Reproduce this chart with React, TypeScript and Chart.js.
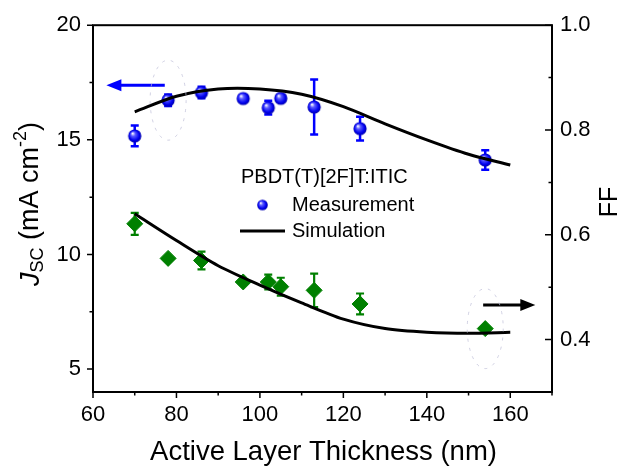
import React, { useEffect, useRef } from "react";
import { Chart, registerables } from "chart.js";
Chart.register(...registerables);

const FONT = "'Liberation Sans', Arial, Helvetica, sans-serif";

// Measured data
const thickness = [70, 78, 86, 96, 102, 105, 113, 124, 154];
const jscValues = [15.17, 16.73, 17.06, 16.8, 16.4, 16.81, 16.43, 15.49, 14.12];
const jscErrors = [0.45, 0.25, 0.25, 0, 0.3, 0.12, 1.2, 0.52, 0.42];
const ffValues = [0.621, 0.555, 0.551, 0.51, 0.51, 0.501, 0.494, 0.468, 0.421];
const ffErrors = [0.021, 0, 0.017, 0, 0.014, 0.017, 0.032, 0.02, 0];

// Simulation
const simThickness = [70, 80, 90, 100, 110, 120, 130, 140, 150, 160];
const jscSim = [16.22, 16.9, 17.22, 17.22, 16.99, 16.45, 15.7, 15.0, 14.37, 13.9];
const ffSim = [0.64, 0.589, 0.541, 0.504, 0.47, 0.439, 0.421, 0.414, 0.412, 0.414];

// Ticks
const xTicks = [60, 80, 100, 120, 140, 160];
const xMinor = [70, 90, 110, 130, 150, 170];
const jscTicks = [5, 10, 15, 20];
const jscMinor = [7.5, 12.5, 17.5];
const ffTicks = [0.4, 0.6, 0.8, 1.0];
const ffMinor = [0.5, 0.7, 0.9];

// Annotations (data coordinates)
const jscArrow = { y: 17.38, from: 77.2, to: 63.2 };
const ffArrow = { y: 0.466, from: 153.5, to: 166 };
const legendTitle = "PBDT(T)[2F]T:ITIC";
const legendLabels = ["Measurement", "Simulation"];

function makeSphere(r: number) {
  const c = document.createElement("canvas");
  const s = Math.ceil(r * 2 + 2);
  c.width = s;
  c.height = s;
  const g = c.getContext("2d")!;
  const cx = s / 2;
  const grad = g.createRadialGradient(cx - r * 0.35, cx - r * 0.4, r * 0.05, cx, cx, r);
  grad.addColorStop(0, "#ffffff");
  grad.addColorStop(0.3, "#5c5cff");
  grad.addColorStop(0.75, "#0000f0");
  grad.addColorStop(1, "#0000a8");
  g.fillStyle = grad;
  g.beginPath();
  g.arc(cx, cx, r, 0, Math.PI * 2);
  g.fill();
  return c;
}

export default function App() {
  const ref = useRef<HTMLCanvasElement>(null);
  useEffect(() => {
    document.body.style.margin = "0";
    const canvas = ref.current!;
    const sphere = makeSphere(6.6);
    const legendSphere = makeSphere(5.3);

    const errorBars = {
      id: "errorBars",
      beforeDatasetsDraw(chart: any) {
        const ctx = chart.ctx;
        const x = chart.scales.x;
        const drawSet = (vals: number[], errs: number[], scale: any, color: string, lw: number) => {
          ctx.save();
          ctx.strokeStyle = color;
          ctx.lineWidth = lw;
          thickness.forEach((t, i) => {
            if (!errs[i]) return;
            const px = x.getPixelForValue(t);
            const y1 = scale.getPixelForValue(vals[i] + errs[i]);
            const y2 = scale.getPixelForValue(vals[i] - errs[i]);
            ctx.beginPath();
            ctx.moveTo(px, y1);
            ctx.lineTo(px, y2);
            ctx.moveTo(px - 4, y1);
            ctx.lineTo(px + 4, y1);
            ctx.moveTo(px - 4, y2);
            ctx.lineTo(px + 4, y2);
            ctx.stroke();
          });
          ctx.restore();
        };
        drawSet(jscValues, jscErrors, chart.scales.y, "#0000ff", 2.5);
        drawSet(ffValues, ffErrors, chart.scales.y2, "#008000", 2.2);
      },
    };

    const decor = {
      id: "decor",
      afterDraw(chart: any) {
        const ctx = chart.ctx;
        const { left, right, top, bottom } = chart.chartArea;
        const xs = chart.scales.x;
        const ys = chart.scales.y;
        const y2 = chart.scales.y2;
        ctx.save();
        ctx.strokeStyle = "#000";
        ctx.lineWidth = 2;
        ctx.strokeRect(left, top, right - left, bottom - top);
        ctx.lineWidth = 1.5;
        ctx.beginPath();
        xTicks.forEach((v) => {
          const p = xs.getPixelForValue(v);
          ctx.moveTo(p, bottom);
          ctx.lineTo(p, bottom + 6);
        });
        xMinor.forEach((v) => {
          const p = xs.getPixelForValue(v);
          ctx.moveTo(p, bottom);
          ctx.lineTo(p, bottom + 3.5);
        });
        jscTicks.forEach((v) => {
          const p = ys.getPixelForValue(v);
          ctx.moveTo(left, p);
          ctx.lineTo(left - 6, p);
        });
        jscMinor.forEach((v) => {
          const p = ys.getPixelForValue(v);
          ctx.moveTo(left, p);
          ctx.lineTo(left - 3.5, p);
        });
        ffTicks.forEach((v) => {
          const p = y2.getPixelForValue(v);
          ctx.moveTo(right, p);
          ctx.lineTo(right - 7, p);
        });
        ffMinor.forEach((v) => {
          const p = y2.getPixelForValue(v);
          ctx.moveTo(right, p);
          ctx.lineTo(right - 3.5, p);
        });
        ctx.stroke();

        // Axis titles
        ctx.fillStyle = "#000";
        ctx.textBaseline = "middle";
        ctx.textAlign = "center";
        ctx.font = `27.5px ${FONT}`;
        ctx.fillText("Active Layer Thickness (nm)", (left + right) / 2 + 1, 452);

        ctx.font = `25px ${FONT}`;
        ctx.save();
        ctx.translate(610, 202);
        ctx.rotate(-Math.PI / 2);
        ctx.fillText("FF", 0, 0);
        ctx.restore();

        // Left rich title
        const segs = [
          { t: "J", f: `italic 27px ${FONT}`, dy: 0 },
          { t: "SC", f: `18px ${FONT}`, dy: 7 },
          { t: " (mA cm", f: `27px ${FONT}`, dy: 0 },
          { t: "-2", f: `18px ${FONT}`, dy: -10 },
          { t: ")", f: `27px ${FONT}`, dy: 0 },
        ];
        let total = 0;
        segs.forEach((s) => {
          ctx.font = s.f;
          total += ctx.measureText(s.t).width;
        });
        ctx.save();
        ctx.translate(31, 204);
        ctx.rotate(-Math.PI / 2);
        ctx.textAlign = "left";
        let cx = -total / 2;
        segs.forEach((s) => {
          ctx.font = s.f;
          ctx.fillText(s.t, cx, s.dy);
          cx += ctx.measureText(s.t).width;
        });
        ctx.restore();

        // Legend
        ctx.textAlign = "left";
        ctx.font = `20px ${FONT}`;
        ctx.fillText(legendTitle, 241, 177);
        ctx.drawImage(legendSphere, 262.5 - legendSphere.width / 2, 205 - legendSphere.height / 2);
        ctx.fillText(legendLabels[0], 292, 205);
        ctx.lineWidth = 3;
        ctx.beginPath();
        ctx.moveTo(240, 231);
        ctx.lineTo(285, 231);
        ctx.stroke();
        ctx.fillText(legendLabels[1], 292, 231);

        // Arrows
        const arrow = (a: any, scale: any, color: string) => {
          const yy = scale.getPixelForValue(a.y);
          const x1 = xs.getPixelForValue(a.from);
          const x2 = xs.getPixelForValue(a.to);
          const dir = Math.sign(x2 - x1);
          ctx.strokeStyle = color;
          ctx.fillStyle = color;
          ctx.lineWidth = 3;
          ctx.beginPath();
          ctx.moveTo(x1, yy);
          ctx.lineTo(x2 - dir * 12, yy);
          ctx.stroke();
          ctx.beginPath();
          ctx.moveTo(x2, yy);
          ctx.lineTo(x2 - dir * 15, yy - 6);
          ctx.lineTo(x2 - dir * 15, yy + 6);
          ctx.closePath();
          ctx.fill();
        };
        arrow(jscArrow, ys, "#0000ff");
        arrow(ffArrow, y2, "#000000");

        // faint selection halos
        const halo = (t: number, v: number, scale: any) => {
          const px = xs.getPixelForValue(t);
          const py = scale.getPixelForValue(v);
          ctx.save();
          ctx.strokeStyle = "rgba(190,190,215,0.7)";
          ctx.lineWidth = 1;
          ctx.setLineDash([3, 6]);
          ctx.beginPath();
          ctx.ellipse(px, py, 18, 40, 0, 0, Math.PI * 2);
          ctx.stroke();
          ctx.restore();
        };
        halo(thickness[1], jscValues[1], ys);
        halo(thickness[8], ffValues[8], y2);
        ctx.restore();
      },
    };

    const tickFont = { family: FONT, size: 22 };
    const chart = new Chart(canvas, {
      type: "scatter",
      data: {
        datasets: [
          {
            type: "line",
            data: simThickness.map((t, i) => ({ x: t, y: jscSim[i] })),
            yAxisID: "y",
            borderColor: "#000",
            borderWidth: 3,
            pointRadius: 0,
            tension: 0.3,
            fill: false,
          },
          {
            type: "line",
            data: simThickness.map((t, i) => ({ x: t, y: ffSim[i] })),
            yAxisID: "y2",
            borderColor: "#000",
            borderWidth: 3,
            pointRadius: 0,
            tension: 0.3,
            fill: false,
          },
          {
            data: thickness.map((t, i) => ({ x: t, y: jscValues[i] })),
            yAxisID: "y",
            pointStyle: sphere,
            pointRadius: 6.5,
          },
          {
            data: thickness.map((t, i) => ({ x: t, y: ffValues[i] })),
            yAxisID: "y2",
            pointStyle: "rectRot",
            pointRadius: 8,
            backgroundColor: "#008000",
            borderColor: "#008000",
            borderWidth: 1,
          },
        ],
      } as any,
      options: {
        animation: false,
        responsive: false,
        maintainAspectRatio: false,
        layout: { padding: { top: 23, left: 0, right: 0, bottom: 0 } },
        plugins: { legend: { display: false }, tooltip: { enabled: false } },
        scales: {
          x: {
            type: "linear",
            position: "bottom",
            min: 60,
            max: 170,
            afterBuildTicks: (s: any) => {
              s.ticks = xTicks.map((v) => ({ value: v }));
            },
            afterFit: (s: any) => {
              s.height = 74;
            },
            grid: { display: false, drawTicks: false },
            border: { display: false },
            ticks: { font: tickFont, color: "#000", padding: 10, maxRotation: 0, autoSkip: false },
          },
          y: {
            type: "linear",
            position: "left",
            min: 4,
            max: 20,
            afterBuildTicks: (s: any) => {
              s.ticks = jscTicks.map((v) => ({ value: v }));
            },
            afterFit: (s: any) => {
              s.width = 93;
            },
            grid: { display: false, drawTicks: false },
            border: { display: false },
            ticks: { font: tickFont, color: "#000", padding: 12, autoSkip: false },
          },
          y2: {
            type: "linear",
            position: "right",
            min: 0.3,
            max: 1.0,
            afterBuildTicks: (s: any) => {
              s.ticks = ffTicks.map((v) => ({ value: v }));
            },
            afterFit: (s: any) => {
              s.width = 73;
            },
            grid: { display: false, drawTicks: false },
            border: { display: false },
            ticks: {
              font: tickFont,
              color: "#000",
              padding: 8,
              autoSkip: false,
              callback: (v: any) => Number(v).toFixed(1),
            },
          },
        },
      } as any,
      plugins: [errorBars, decor],
    });
    return () => chart.destroy();
  }, []);
  return (
    <div style={{ position: "absolute", left: 0, top: 0, width: 625, height: 466 }}>
      <canvas ref={ref} width={625} height={466} style={{ display: "block" }} />
    </div>
  );
}
